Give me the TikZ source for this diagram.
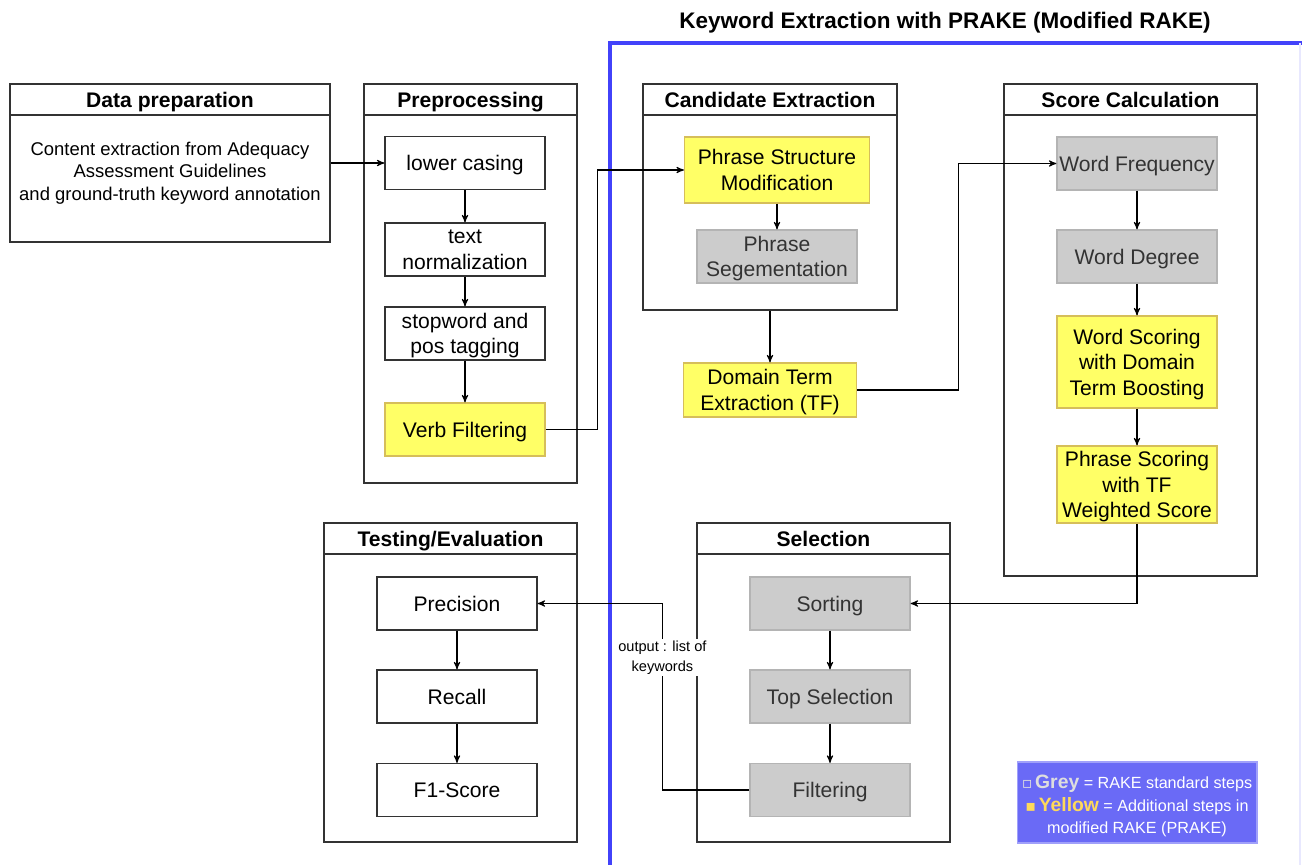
\documentclass[tikz,border=0pt]{standalone}
\usepackage{fontspec}
\setmainfont{Liberation Sans}
\newfontfamily\symfont{DejaVu Sans}
\usetikzlibrary{arrows}

\definecolor{frameblue}{RGB}{66,66,250}
\definecolor{greyfill}{RGB}{204,204,204}
\definecolor{greyline}{RGB}{180,180,180}
\definecolor{yellowfill}{RGB}{255,255,102}
\definecolor{yellowline}{RGB}{214,190,90}
\definecolor{keyfill}{RGB}{106,106,246}
\definecolor{keyline}{RGB}{160,160,250}
\definecolor{keygrey}{RGB}{222,222,222}
\definecolor{keyyellow}{RGB}{255,217,90}

\tikzset{
  stage/.style={draw=black!80, line width=0.8pt, fill=white, inner sep=0pt},
  stagehead/.style={stage, anchor=north, minimum height=0.62cm, text depth=0pt,
    font=\bfseries\fontsize{12}{14}\selectfont},
  plainstep/.style={draw=black!80, line width=0.7pt, fill=white, minimum width=3.2cm,
    minimum height=1.06cm, align=center, inner sep=1pt, text depth=0pt,
    font=\fontsize{12}{14.5}\selectfont},
  greystep/.style={plainstep, fill=greyfill, draw=greyline, text=black!80},
  yellowstep/.style={plainstep, fill=yellowfill, draw=yellowline},
  arr/.style={->, >=stealth', line width=0.6pt, black},
  outlabel/.style={fill=white, align=center, inner sep=1pt,
    font=\fontsize{8.3}{11}\selectfont},
}

\begin{document}
\begin{tikzpicture}[x=0.02cm, y=-0.02cm]
\useasboundingbox (0,0) rectangle (1302,865);

\node[font=\bfseries\fontsize{12.8}{15}\selectfont] (title) at (945,23) {Keyword Extraction with PRAKE (Modified RAKE)};
\draw[frameblue, line width=1.8pt] (610,880) -- (610,43) -- (1310,43);
\draw[frameblue!12, line width=0.6pt] (1300,43) -- (1300,880);

% stage frames
\node[stage, minimum width=6.4cm, minimum height=3.16cm] (prep) at (170,163) {};
\node[stagehead, minimum width=6.4cm] (preph) at (prep.north) {Data preparation};
\node[stage, minimum width=4.26cm, minimum height=7.98cm] (pre) at (470.5,283.5) {};
\node[stagehead, minimum width=4.26cm] (preh) at (pre.north) {Preprocessing};
\node[stage, minimum width=5.08cm, minimum height=4.52cm] (cand) at (770,197) {};
\node[stagehead, minimum width=5.08cm] (candh) at (cand.north) {Candidate Extraction};
\node[stage, minimum width=5.06cm, minimum height=9.84cm] (score) at (1130.5,330) {};
\node[stagehead, minimum width=5.06cm] (scoreh) at (score.north) {Score Calculation};
\node[stage, minimum width=5.06cm, minimum height=6.38cm] (sel) at (823.5,682.5) {};
\node[stagehead, minimum width=5.06cm] (selh) at (sel.north) {Selection};
\node[stage, minimum width=5.06cm, minimum height=6.38cm] (test) at (450.5,682.5) {};
\node[stagehead, minimum width=5.06cm] (testh) at (test.north) {Testing/Evaluation};

\node[align=center, font=\fontsize{10.5}{12.75}\selectfont] (preptxt) at (170,173)
  {Content extraction from Adequacy\\Assessment Guidelines\\and ground-truth keyword annotation};

% preprocessing
\node[plainstep] (lower) at (465,163) {lower casing};
\node[plainstep] (norm) at (465,249.5) {text\\normalization};
\node[plainstep] (stop) at (465,333.5) {stopword and\\pos tagging};
\node[yellowstep] (verb) at (465,429.5) {Verb Filtering};

% candidates
\node[yellowstep, minimum width=3.7cm, minimum height=1.32cm] (pstruct) at (777,170) {Phrase Structure\\Modification};
\node[greystep] (pseg) at (777,256.5) {Phrase\\Segementation};
\node[yellowstep, minimum width=3.46cm, minimum height=1.08cm] (dom) at (770,390) {Domain Term\\Extraction (TF)};

% scoring
\node[greystep] (wfreq) at (1137,163.5) {Word Frequency};
\node[greystep] (wdeg) at (1137,256.5) {Word Degree};
\node[yellowstep, minimum height=1.84cm] (wscore) at (1137,362) {Word Scoring\\with Domain\\Term Boosting};
\node[yellowstep, minimum height=1.54cm] (pscore) at (1137,484.5) {Phrase Scoring\\with TF\\Weighted Score};

% selection and evaluation
\foreach \name/\y/\txt in {sort/603.5/Sorting, topsel/696.5/Top Selection, filt/790/Filtering}
  \node[greystep] (\name) at (830,\y) {\txt};
\foreach \name/\y/\txt in {prec/603.5/Precision, rec/696.5/Recall, fone/790/F1-Score}
  \node[plainstep] (\name) at (457,\y) {\txt};

\draw[arr] (prep.east) -- (lower.west);
\foreach \a/\b in {lower/norm, norm/stop, stop/verb, pstruct/pseg, wfreq/wdeg, wdeg/wscore,
  wscore/pscore, sort/topsel, topsel/filt, prec/rec, rec/fone}
  \draw[arr] (\a) -- (\b);
\draw[arr] (verb.east) -- ++(52,0) |- (pstruct.west);
\draw[arr] (cand.south) -- (dom.north);
\draw[arr] (dom.east) -- ++(101,0) |- (wfreq.west);
\draw[arr] (pscore.south) |- (sort.east);
\draw[arr] (filt.west) -- ++(-87,0) |- node[outlabel, pos=0.355] (outtxt) {output : list of\\keywords} (prec.east);

% legend
\node[fill=keyfill, draw=keyline, line width=0.6pt, minimum width=4.8cm,
  minimum height=1.62cm] (key) at (1137,802.5) {};
\node[text=white, align=center, inner sep=0pt, font=\fontsize{9.2}{12.75}\selectfont]
  (keytxt) at (1137,806)
  {{\symfont\color{keygrey}\fontsize{9}{9}\selectfont ▫}\,{\bfseries\fontsize{11}{12}\selectfont\color{keygrey}Grey} = RAKE standard steps\\
   {\symfont\color{keyyellow}\fontsize{9}{9}\selectfont ▪}\,{\bfseries\fontsize{11}{12}\selectfont\color{keyyellow}Yellow} = Additional steps in\\
   modified RAKE (PRAKE)};
\end{tikzpicture}
\end{document}
